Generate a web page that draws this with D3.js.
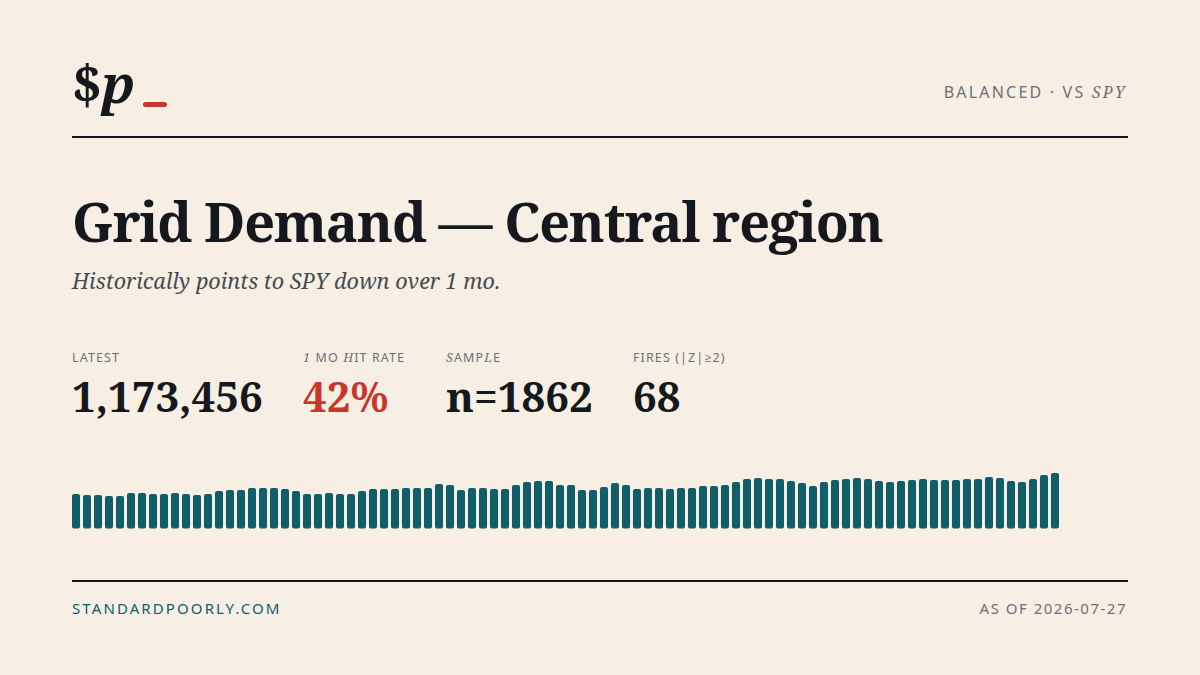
<!DOCTYPE html>
<html><head><meta charset="utf-8">
<script src="https://cdn.jsdelivr.net/npm/d3@7"></script>
<style>
html,body{margin:0;padding:0;background:#f7efe3;}
svg{display:block;}
</style></head>
<body>
<svg id="c" width="1200" height="675"></svg>
<script>
// ---- data ----
const title = "Grid Demand — Central region";
const subtitle = "Historically points to SPY down over 1 mo.";
const statLabels = ["LATEST", "1 MO HIT RATE", "SAMPLE", "FIRES (|Z|≥2)"];
const statValues = ["1,173,456", "42%", "n=1862", "68"];
const footerLeft = "STANDARDPOORLY.COM";
const footerRight = "AS OF 2026-07-27";
const demand = [
  34.5,33.5,33.5,32.5,32.5,35.5,35.5,34.5,34.5,35.5,
  34.5,33.5,34.5,37.5,38.5,38.5,40.5,40.5,40.5,39.5,
  37.5,34.5,34.5,35.5,34.5,34.5,37.5,39.5,39.5,39.5,
  40.5,40.5,40.5,44.5,43.5,38.5,40.5,40.5,39.5,39.5,
  43.5,46.5,47.5,47.5,43.5,43.5,38.5,38.5,41.5,45.5,
  43.5,39.5,40.5,40.5,39.5,40.5,40.5,42.5,42.5,43.5,
  46.5,49.5,50.5,49.5,49.5,47.5,45.5,42.5,46.5,48.5,
  49.5,50.5,49.5,47.5,46.5,47.5,48.5,49.5,48.5,48.5,
  48.5,49.5,49.5,51.5,50.5,47.5,46.5,49.5,53.5,55.5
];

const C = {bg:"#f7efe3", ink:"#15191e", grey:"#6b7078", teal:"#115e6b", red:"#c9372c", sub:"#474b52"};
const SERIF = "'Noto Serif','DejaVu Serif',serif";
const SANS = "'Noto Sans','Open Sans',sans-serif";

const svg = d3.select("#c");
svg.append("rect").attr("width",1200).attr("height",675).attr("fill",C.bg);

// logo
const logo = svg.append("text").attr("x",72).attr("y",103)
  .attr("font-family",SERIF).attr("font-weight",700).attr("font-size",53).attr("fill",C.ink);
logo.append("tspan").text("$");
logo.append("tspan").attr("font-style","italic").text("p");
svg.append("rect").attr("x",143).attr("y",102).attr("width",24).attr("height",5).attr("rx",2.5).attr("fill",C.red);

// top-right tag
const tag = svg.append("text").attr("x",1127).attr("y",98).attr("text-anchor","end")
  .attr("font-family",SANS).attr("font-size",16).attr("letter-spacing",2.2).attr("fill",C.grey);
tag.append("tspan").text("BALANCED · VS ");
tag.append("tspan").attr("font-family",SERIF).attr("font-style","italic").text("SPY");

// rules
svg.append("rect").attr("x",72).attr("y",136).attr("width",1056).attr("height",2).attr("fill",C.ink);
svg.append("rect").attr("x",72).attr("y",580).attr("width",1056).attr("height",2).attr("fill",C.ink);

// title + subtitle
svg.append("text").attr("x",72).attr("y",242).attr("font-family",SERIF).attr("font-weight",700)
  .attr("font-size",54).attr("letter-spacing",-1.2).attr("fill",C.ink).text(title);
svg.append("text").attr("x",72).attr("y",289).attr("font-family",SERIF).attr("font-style","italic")
  .attr("font-size",21.6).attr("fill",C.sub).text(subtitle);

// stats
const statX = [72, 303, 446, 633];
const italicChars = [[], [0, 5], [0, 4], []];
statLabels.forEach((lab, i) => {
  const t = svg.append("text").attr("x",statX[i]).attr("y",362).attr("font-family",SANS)
    .attr("font-size",12.5).attr("letter-spacing",1.1).attr("fill",C.grey);
  [...lab].forEach((ch, j) => {
    const s = t.append("tspan").text(ch);
    if (italicChars[i].includes(j)) s.attr("font-family",SERIF).attr("font-style","italic");
  });
  svg.append("text").attr("x",statX[i]).attr("y",412).attr("font-family",SERIF).attr("font-weight",700)
    .attr("font-size",42).attr("fill", i===1 ? C.red : C.ink).text(statValues[i]);
});

// bars
const x = d3.scaleBand().domain(d3.range(demand.length)).range([72, 1059]).paddingInner(0.27).paddingOuter(0);
const y = d3.scaleLinear().domain([0, d3.max(demand)]).range([528.5, 473]);
svg.append("g").selectAll("rect").data(demand).join("rect")
  .attr("x",(d,i)=>x(i)).attr("width",x.bandwidth())
  .attr("y",d=>y(d)).attr("height",d=>y(0)-y(d))
  .attr("rx",2).attr("fill",C.teal);

// footer
svg.append("text").attr("x",72).attr("y",614).attr("font-family",SANS).attr("font-size",15)
  .attr("letter-spacing",2.1).attr("fill",C.teal).text(footerLeft);
svg.append("text").attr("x",1127).attr("y",614).attr("text-anchor","end").attr("font-family",SANS).attr("font-size",15)
  .attr("letter-spacing",1.5).attr("fill",C.grey).text(footerRight);
</script>
</body></html>
